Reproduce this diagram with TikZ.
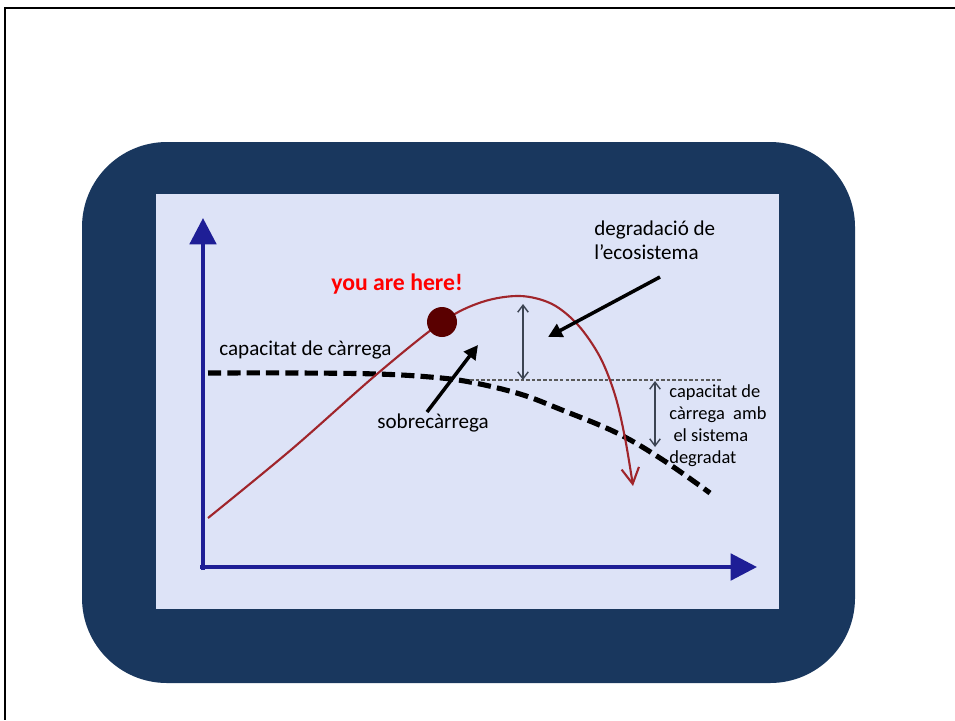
\documentclass[tikz,border=0pt]{standalone}
\usepackage{fontspec}
\setmainfont{Carlito}
\usetikzlibrary{arrows.meta, positioning}

\definecolor{frameblue}{HTML}{19375E}
\definecolor{panel}{HTML}{DDE3F7}
\definecolor{axisblue}{HTML}{1E1E96}
\definecolor{curvered}{HTML}{A0252B}
\definecolor{dotred}{HTML}{5A0000}
\definecolor{gaparrow}{HTML}{3C4452}

\begin{document}
\begin{tikzpicture}[x=0.02cm, y=-0.02cm,
    axis/.style={line width=2.3pt, axisblue, -{Triangle[length=15pt, width=15pt]}},
    label/.style={inner sep=0pt, font=\fontsize{12}{13.6}\selectfont},
    small/.style={inner sep=0pt, align=left, font=\fontsize{10.5}{12.5}\selectfont},
    pointer/.style={line width=2pt, -{Triangle[length=8pt, width=8pt]}},
    gap/.style={line width=0.8pt, gaparrow, {Straight Barb[length=4pt, width=6pt]}-{Straight Barb[length=4pt, width=6pt]}}]
    \useasboundingbox (0,0) rectangle (955,720);

    % slide frame
    \coordinate (f1) at (955,8);
    \coordinate (f2) at (5,8);
    \coordinate (f3) at (5,720);
    \draw[line width=1.4pt] (f1) -- (f2) -- (f3);

    \fill[frameblue, rounded corners=1.7cm] (82,142) rectangle (855,683);
    \fill[panel] (156,194) rectangle (779,609);

    % axes
    \coordinate (o) at (203,570);
    \coordinate (ytop) at (203,218);
    \coordinate (xo) at (200,567);
    \coordinate (xend) at (757,567);
    \draw[axis] (o) -- (ytop);
    \draw[axis] (xo) -- (xend);

    % carrying capacity
    \draw[line width=2.9pt, dash pattern=on 7.5pt off 3.5pt]
        plot[smooth, tension=0.6] coordinates {(208,373) (300,373) (377,374) (430,377) (470,382) (520,394) (562,410) (617,433) (663,460) (710,493)};
    \draw[line width=0.6pt, gray!70!black, dash pattern=on 2pt off 1.2pt] (470,380) -- (723,380);

    % population
    \draw[curvered, line width=1.2pt, -{Straight Barb[length=9pt, width=10pt, line width=1.2pt]}]
        plot[smooth, tension=0.55] coordinates {(208,518) (292,449) (377,374) (442,322) (482,302) (520,296) (552,304) (578,325) (600,357) (615,395) (625,438) (633,486)};
    \node[circle, fill=dotred, inner sep=0pt, minimum size=0.6cm] (dot) at (442,322) {};

    % labels
    \node[label, font=\fontsize{13.5}{15}\selectfont\bfseries, text=red, anchor=base] (here) at (397,290) {you are here!};
    \node[label, anchor=base west] (cap) at (219,355) {capacitat de càrrega};
    \node[label, anchor=base west] (sobre) at (377,428) {sobrecàrrega};
    \node[label, align=left, anchor=base west] (degr) at (594,259) {degradació de\\l’ecosistema};
    \node[small, anchor=base west] (capdeg) at (669,463) {capacitat de\\càrrega\ \ amb\\\ el sistema\\degradat};

    % pointers
    \coordinate (dfrom) at (660,277);
    \coordinate (dto) at (548,337);
    \coordinate (sfrom) at (427,412);
    \coordinate (sto) at (478,345);
    \draw[pointer] (dfrom) -- (dto);
    \draw[pointer] (sfrom) -- (sto);

    % gaps
    \coordinate (peak) at (523,304);
    \coordinate (kold) at (523,380);
    \coordinate (knew) at (655,381);
    \coordinate (klow) at (655,447);
    \draw[gap] (peak) -- (kold);
    \draw[gap] (knew) -- (klow);
\end{tikzpicture}
\end{document}
